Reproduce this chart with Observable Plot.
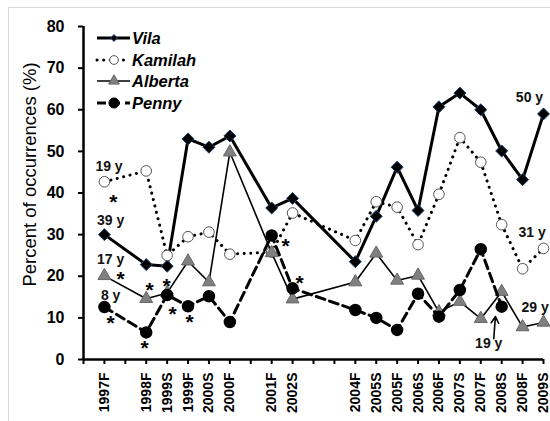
<!DOCTYPE html>
<html>
<head>
<meta charset="utf-8">
<script src="https://cdn.jsdelivr.net/npm/d3@7"></script>
<script src="https://cdn.jsdelivr.net/npm/@observablehq/plot@0.6"></script>
<style>
  html, body { margin: 0; padding: 0; background: #fff; }
  #wrap { position: relative; width: 550px; height: 421px; overflow: hidden; font-family: "Liberation Sans", Arial, sans-serif; }
  #frame { position: absolute; left: 8px; top: 7px; width: 600px; height: 500px; border-top: 1px solid #d9d9d9; border-left: 1px solid #d9d9d9; }
  #chart { position: absolute; left: 0; top: 0; }
  #legend { position: absolute; left: 0; top: 0; }
</style>
</head>
<body>
<div id="wrap"><div id="frame"></div><div id="chart"></div><svg id="legend" width="220" height="120"></svg></div>
<script>
// ---- data ----
const slots   = [0, 2, 3, 4, 5, 6, 8, 9, 12, 13, 14, 15, 16, 17, 18, 19, 20, 21];
const seasons = ["1997F","1998F","1999S","1999F","2000S","2000F","2001F","2002S","2004F","2005S","2005F","2006S","2006F","2007S","2007F","2008S","2008F","2009S"];
const vila    = [30, 22.8, 22.4, 53, 51, 53.7, 36.4, 38.7, 23.5, 34.4, 46.2, 35.8, 60.7, 64, 60, 50.1, 43.2, 59];
const kamilah = [42.7, 45.3, 25, 29.5, 30.6, 25.3, 25.8, 35.2, 28.6, 37.9, 36.6, 27.6, 39.7, 53.3, 47.4, 32.4, 21.8, 26.7];
const alberta = [20.1, 14.6, 16, 23.6, 18.6, 49.8, 25.6, 14.5, 18.6, 25.5, 19, 20.2, 11.4, 13.9, 9.8, 16.3, 7.8, 8.9];
const penny   = [12.6, 6.5, 15.5, 12.8, 15.2, 9, 29.8, 17.1, 11.9, 10, 7.1, 15.8, 10.3, 16.7, 26.5, 12.7, null, null];
const seriesNames = ["Vila", "Kamilah", "Alberta", "Penny"];
const yTicks = [0, 10, 20, 30, 40, 50, 60, 70, 80];
const yTitle = "Percent of occurrences (%)";

// annotation labels (slot position, percent value, text)
const labelSlots  = [0.22, 0.3, 0.3, 0.3, 20.33, 20.46, 20.6, 18.38];
const labelValues = [46.4, 33.4, 24.1, 15.4, 62.9, 30.6, 12.6, 3.8];
const labelTexts  = ["19 y", "39 y", "17 y", "8 y", "50 y", "31 y", "29 y", "19 y"];
// significance asterisks (slot position, percent value)
const starSlots  = [0.43, 0.77, 2.16, 2.97, 0.29, 1.92, 3.26, 4.07, 8.66, 9.33];
const starValues = [39, 20.5, 17.8, 18.8, 9.9, 3.9, 12.1, 10.2, 28.4, 19.5];
// arrow pointing at Penny 2008S
const arrowFrom = [18.62, 5.0];
const arrowTo   = [18.7, 10.3];

// ---- tables ----
const mk = vals => slots.map((s, i) => ({x: s, y: vals[i]})).filter(d => d.y != null);
const V = mk(vila), K = mk(kamilah), A = mk(alberta), P = mk(penny);
const labelMap = new Map(slots.map((s, i) => [s, seasons[i]]));
const allSlots = d3.range(-1, 22);
const labels = labelTexts.map((t, i) => ({x: labelSlots[i], y: labelValues[i], t}));
const stars = starSlots.map((s, i) => ({x: s, y: starValues[i]}));

const chart = Plot.plot({
  width: 550,
  height: 421,
  marginLeft: 83,
  marginRight: 7,
  marginTop: 26,
  marginBottom: 62,
  style: {fontFamily: "'Liberation Sans', Arial, sans-serif", background: "transparent", color: "#000"},
  x: {domain: [-1, 21]},
  y: {domain: [0, 80]},
  marks: [
    Plot.axisY({ticks: yTicks, tickSize: 5, tickPadding: 14, fontSize: 16, fontWeight: "bold", label: null, strokeWidth: 2}),
    Plot.axisX({ticks: allSlots, tickFormat: d => labelMap.get(d) ?? "", tickSize: 5, tickPadding: 8, tickRotate: -90, fontSize: 14, fontWeight: "bold", label: null, strokeWidth: 2}),
    Plot.ruleX([-1], {y1: 0, y2: 80, strokeWidth: 2.5}),
    Plot.ruleY([0], {x1: -1, x2: 21, strokeWidth: 2.5}),
    Plot.text([yTitle], {frameAnchor: "left", textAnchor: "middle", rotate: -90, dx: -53, dy: -18.5, fontSize: 18.5}),
    // Vila
    Plot.line(V, {x: "x", y: "y", stroke: "#000", strokeWidth: 3}),
    Plot.dot(V, {x: "x", y: "y", symbol: "diamond2", r: 5.4, fill: "#000", stroke: "#1f3f6f", strokeWidth: 1}),
    // Kamilah
    Plot.line(K, {x: "x", y: "y", stroke: "#000", strokeWidth: 3, strokeDasharray: "0.1,6.5", strokeLinecap: "round"}),
    Plot.dot(K, {x: "x", y: "y", symbol: "circle", r: 5.3, fill: "#fff", stroke: "#555", strokeWidth: 1}),
    // Alberta
    Plot.line(A, {x: "x", y: "y", stroke: "#000", strokeWidth: 1.6}),
    Plot.dot(A, {x: "x", y: "y", symbol: "triangle", r: 4.8, fill: "#808080", stroke: "#666", strokeWidth: 1}),
    // Penny
    Plot.line(P, {x: "x", y: "y", stroke: "#000", strokeWidth: 3, strokeDasharray: "9,5"}),
    Plot.dot(P, {x: "x", y: "y", symbol: "circle", r: 5.5, fill: "#000", stroke: "#000"}),
    // annotations
    Plot.text(labels, {x: "x", y: "y", text: "t", fontSize: 14, fontWeight: "bold", fill: "#111"}),
    Plot.text(stars, {x: "x", y: "y", text: () => "*", fontSize: 21, fontWeight: "bold", dy: 5}),
    Plot.arrow([0], {x1: () => arrowFrom[0], y1: () => arrowFrom[1], x2: () => arrowTo[0], y2: () => arrowTo[1], stroke: "#000", strokeWidth: 1.6, headLength: 7})
  ]
});
document.getElementById("chart").appendChild(chart);

// ---- legend ----
const lg = d3.select("#legend");
const rowsY = [38, 60, 81, 103];
const styles = [
  {w: 3, dash: null, cap: "butt", sym: d3.symbolDiamond2, size: 30, fill: "#000", stroke: "#1f3f6f"},
  {w: 3, dash: "0.1,6.5", cap: "round", sym: d3.symbolCircle, size: 60, fill: "#fff", stroke: "#555"},
  {w: 1.6, dash: null, cap: "butt", sym: d3.symbolTriangle, size: 50, fill: "#808080", stroke: "#666"},
  {w: 3, dash: "9,5", cap: "butt", sym: d3.symbolCircle, size: 80, fill: "#000", stroke: "#000"}
];
seriesNames.forEach((name, i) => {
  const s = styles[i], y = rowsY[i];
  lg.append("line").attr("x1", 97).attr("x2", 130).attr("y1", y).attr("y2", y)
    .attr("stroke", "#000").attr("stroke-width", s.w).attr("stroke-linecap", s.cap)
    .attr("stroke-dasharray", s.dash);
  lg.append("path").attr("d", d3.symbol(s.sym, s.size)()).attr("transform", `translate(114,${y})`)
    .attr("fill", s.fill).attr("stroke", s.stroke).attr("stroke-width", 1);
  lg.append("text").attr("x", 132).attr("y", y).attr("dy", "0.36em")
    .attr("font-family", "'Liberation Sans', Arial, sans-serif").attr("font-size", 16.5)
    .attr("font-weight", "bold").attr("font-style", "italic").text(name);
});
</script>
</body>
</html>
